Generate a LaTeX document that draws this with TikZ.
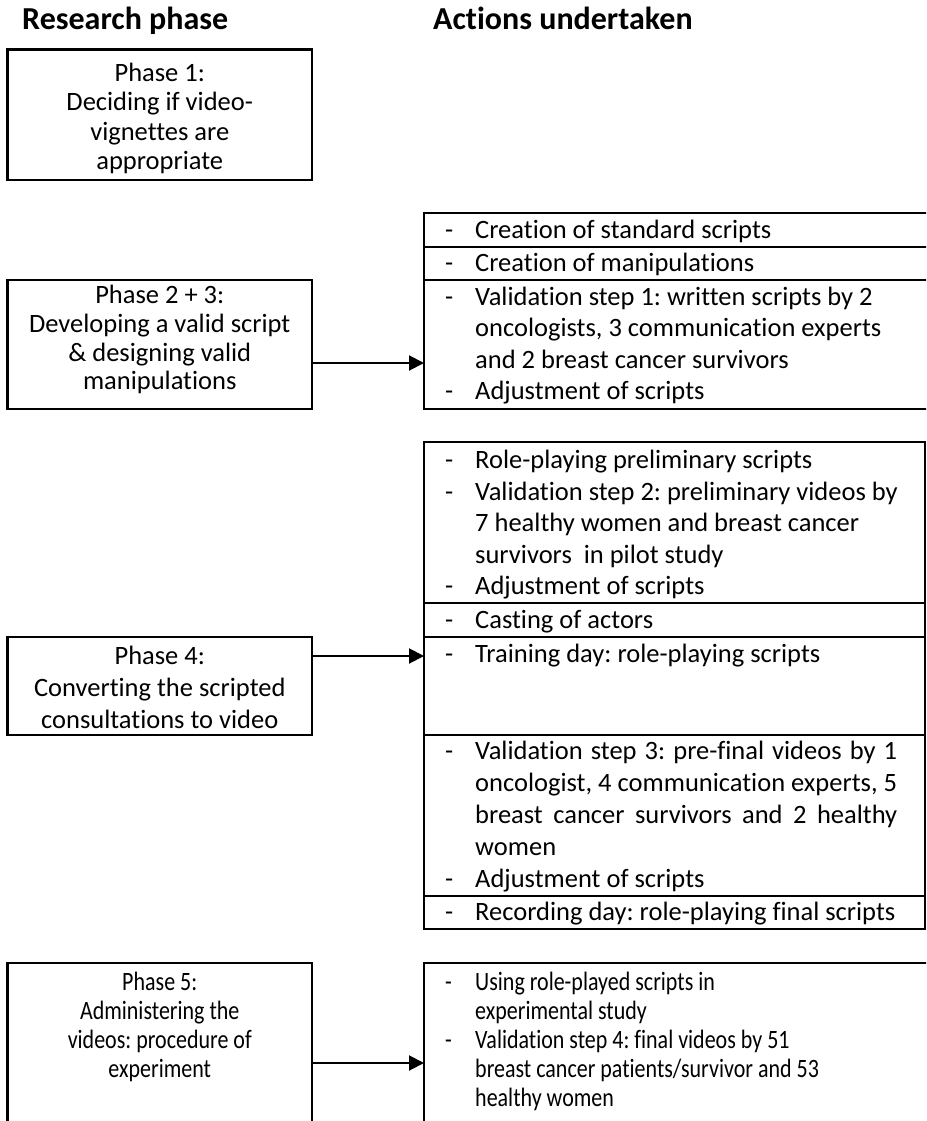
\documentclass[tikz,border=0pt]{standalone}
\usepackage{fontspec}
\setmainfont{Carlito}[Ligatures=CommonOff]
\usetikzlibrary{arrows.meta}
\newcommand\myfs{\fontsize{26.5}{32}\selectfont\frenchspacing}
\newcommand\hdfs{\fontsize{32}{38}\selectfont\bfseries}
\newcommand\sq[1]{\scalebox{0.83}[1]{#1}}
\begin{document}
\begin{tikzpicture}[x=1pt,y=-1pt,
  box/.style={draw,line width=2.4pt,inner sep=0pt,outer sep=0pt,anchor=north west},
  ctxt/.style={inner sep=0pt,anchor=base,font=\myfs},
  ltxt/.style={inner sep=0pt,anchor=base west,font=\myfs},
  head/.style={inner sep=0pt,anchor=base west,font=\hdfs},
  arr/.style={line width=2pt,-{Triangle[length=15pt,width=15pt]}},
  sepline/.style={line width=2.4pt}]
\useasboundingbox (0,0) rectangle (926,1121);
\clip (0,0) rectangle (926,1121);
% headings
\node[head] (h1) at (22,30) {Research phase};
\node[head] (h2) at (433,30) {Actions undertaken};
% left boxes
\node[box,minimum width=304.5pt,minimum height=130.5pt] (p1) at (7.5,49.5) {};
\node[box,minimum width=304.5pt,minimum height=129pt] (p23) at (7.5,280) {};
\node[box,minimum width=304.5pt,minimum height=98pt] (p4) at (7.5,637) {};
\node[box,minimum width=304.5pt,minimum height=180pt] (p5) at (7.5,963) {};
% right boxes
\node[box,minimum width=520pt,minimum height=196pt] (r1) at (424,213) {};
\node[box,minimum width=501pt,minimum height=487pt] (r2) at (424,442) {};
\node[box,minimum width=520pt,minimum height=180pt] (r3) at (424,963) {};
% separators
\foreach \yy in {247,280} \draw[sepline] (r1.west |- 0,\yy) -- (r1.east |- 0,\yy);
\foreach \yy in {603,637,735,896} \draw[sepline] (r2.west |- 0,\yy) -- (r2.east |- 0,\yy);
% arrows
\coordinate (a23) at (0,363);
\coordinate (a4) at (0,656);
\coordinate (a5) at (0,1063);
\draw[arr] (p23.east |- a23) -- (r1.west |- a23);
\draw[arr] (p4.east |- a4) -- (r2.west |- a4);
\draw[arr] (p5.east |- a5) -- (r3.west |- a5);
% left texts
\node[ctxt] (t11) at (159.75,82) {Phase 1:};
\node[ctxt] (t12) at (159.75,111) {Deciding if video-};
\node[ctxt] (t13) at (159.75,140) {vignettes are};
\node[ctxt] (t14) at (159.75,169) {appropriate};
\node[ctxt] (t21) at (159.75,303) {Phase 2 + 3:};
\node[ctxt] (t22) at (159.75,332) {Developing a valid script};
\node[ctxt] (t23) at (159.75,361) {\& designing valid};
\node[ctxt] (t24) at (159.75,389) {manipulations};
\node[ctxt] (t41) at (159.75,664) {Phase 4:};
\node[ctxt] (t42) at (159.75,696) {Converting the scripted};
\node[ctxt] (t43) at (159.75,728) {consultations to video};
\node[ctxt] (t51) at (159.75,990) {\sq{Phase 5:}};
\node[ctxt] (t52) at (159.75,1019) {\sq{Administering the}};
\node[ctxt] (t53) at (159.75,1048) {\sq{videos: procedure of}};
\node[ctxt] (t54) at (159.75,1077) {\sq{experiment}};
% right texts: dashes
\foreach \yy/\nm in {238/d1,271/d2,305/d3,399/d4,468/d5,500/d6,594/d7,628/d8,662/d9,759/d10,887/d11,920/d12}
  \node[ltxt] (\nm) at (445,\yy) {-};
\foreach \yy/\nm in {990/d13,1048/d14}
  \node[ltxt] (\nm) at (445,\yy) {\sq{-}};
\node[ltxt] (s1) at (475,238) {Creation of standard scripts};
\node[ltxt] (s2) at (475,271) {Creation of manipulations};
\node[ltxt] (s3) at (475,305) {Validation step 1: written scripts by 2};
\node[ltxt] (s4) at (475,336) {oncologists, 3 communication experts};
\node[ltxt] (s5) at (475,368) {and 2 breast cancer survivors};
\node[ltxt] (s6) at (475,399) {Adjustment of scripts};
\node[ltxt] (s7) at (475,468) {Role-playing preliminary scripts};
\node[ltxt] (s8) at (475,500) {Validation step 2: preliminary videos by};
\node[ltxt] (s9) at (475,531) {7 healthy women and breast cancer};
\node[ltxt] (s10) at (475,563) {survivors\ \ in pilot study};
\node[ltxt] (s11) at (475,594) {Adjustment of scripts};
\node[ltxt] (s12) at (475,628) {Casting of actors};
\node[ltxt] (s13) at (475,662) {Training day: role-playing scripts};
\node[ltxt] (s14) at (475,759) {\makebox[422pt][s]{Validation step 3: pre-final videos by 1}};
\node[ltxt] (s15) at (475,791) {\makebox[422pt][s]{oncologist, 4 communication experts, 5}};
\node[ltxt] (s16) at (475,823) {\makebox[422pt][s]{breast cancer survivors and 2 healthy}};
\node[ltxt] (s17) at (475,855) {women};
\node[ltxt] (s18) at (475,887) {Adjustment of scripts};
\node[ltxt] (s19) at (475,920) {Recording day: role-playing final scripts};
\node[ltxt] (s20) at (475,990) {\sq{Using role-played scripts in}};
\node[ltxt] (s21) at (475,1019) {\sq{experimental study}};
\node[ltxt] (s22) at (475,1048) {\sq{Validation step 4: final videos by 51}};
\node[ltxt] (s23) at (475,1077) {\sq{breast cancer patients/survivor and 53}};
\node[ltxt] (s24) at (475,1106) {\sq{healthy women}};
\end{tikzpicture}
\end{document}
